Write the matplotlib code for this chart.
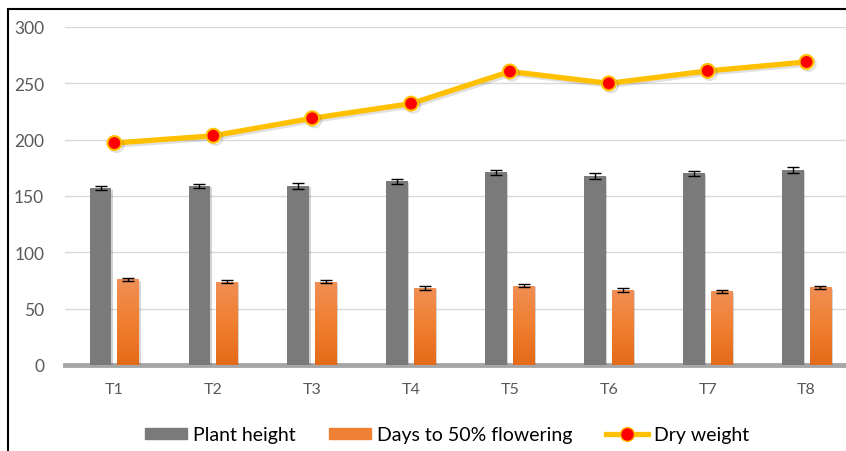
"""Plant height / flowering / dry weight by treatment."""

import matplotlib.pyplot as plt
import matplotlib.patheffects as pe
import numpy as np
from matplotlib.colors import LinearSegmentedColormap
from matplotlib.lines import Line2D
from matplotlib.patches import Patch, Rectangle

treatments = ["T1", "T2", "T3", "T4", "T5", "T6", "T7", "T8"]
plant_height = [157, 159, 159, 163, 171, 168, 170, 173]
plant_height_err = [2.0, 2.0, 2.5, 2.0, 2.5, 2.5, 2.5, 2.5]
days_flowering = [76, 74, 74, 68.5, 70.5, 66.5, 65.5, 69]
days_flowering_err = [1.5, 1.5, 1.5, 1.5, 1.5, 1.5, 1.5, 1.5]
dry_weight = [197, 203.5, 219, 232, 260.5, 250, 261, 269]

GREY = "#7a7a7a"
GOLD = "#ffc000"
TICK = "#595959"

plt.rcParams["font.family"] = ["Lato", "DejaVu Sans"]

fig = plt.figure(figsize=(8.46, 4.52), dpi=100)
ax = fig.add_axes([65 / 846, 1 - 366 / 452, 791 / 846, 338 / 452])

x = np.arange(len(treatments))
w = 0.22
shadow = [pe.SimplePatchShadow(offset=(1, -1), alpha=0.2), pe.Normal()]

ax.bar(x - 0.14, plant_height, w, color=GREY, zorder=3, path_effects=shadow)
ax.errorbar(x - 0.14, plant_height, yerr=plant_height_err, fmt="none",
            ecolor="black", elinewidth=1, capsize=4, capthick=1, zorder=4)

# orange bars with a light-to-dark vertical gradient
bars = ax.bar(x + 0.14, days_flowering, w, color="#ed7d31", zorder=3,
              path_effects=shadow)
grad = np.linspace(0, 1, 100).reshape(-1, 1)
ocmap = LinearSegmentedColormap.from_list("o", ["#e36a18", "#f07f30", "#f08f55"])
for b in bars:
    im = ax.imshow(grad, cmap=ocmap, aspect="auto", origin="lower", zorder=3.5,
                   extent=(b.get_x(), b.get_x() + b.get_width(), 0, b.get_height()))
    im.set_clip_path(b)
ax.errorbar(x + 0.14, days_flowering, yerr=days_flowering_err, fmt="none",
            ecolor="black", elinewidth=1, capsize=4, capthick=1, zorder=4)

ax.plot(x, dry_weight, color=GOLD, lw=3.8, marker="o", ms=10,
        mfc="#ff0000", mec=GOLD, mew=1.5, zorder=5,
        path_effects=[pe.SimpleLineShadow(offset=(1.5, -1.5), alpha=0.12), pe.Normal()])

ax.set_xlim(-0.5, 7.5)
ax.set_ylim(0, 300)
ax.set_yticks(range(0, 301, 50))
ax.set_xticks(x, treatments)
ax.grid(axis="y", color="#d9d9d9", lw=1, zorder=0)
ax.set_axisbelow(True)
for s in ("top", "right", "left"):
    ax.spines[s].set_visible(False)
ax.spines["bottom"].set_color("#a6a6a6")
ax.spines["bottom"].set_linewidth(3.5)
ax.spines["bottom"].set_zorder(2)
ax.tick_params(length=0, colors=TICK, labelsize=12.5)
ax.tick_params(axis="y", pad=15)
ax.tick_params(axis="x", pad=12, labelsize=11.5)

handles = [
    Patch(color=GREY, label="Plant height"),
    Patch(color="#ee8034", label="Days to 50% flowering"),
    Line2D([], [], color=GOLD, lw=3.8, marker="o", ms=10, mfc="#ff0000",
           mec=GOLD, label="Dry weight"),
]
fig.legend(handles=handles, loc="center", bbox_to_anchor=(447 / 846, 1 - 436 / 452),
           ncol=3, frameon=False, fontsize=14, handlelength=2.15, handleheight=0.45,
           columnspacing=1.75, handletextpad=0.3, borderpad=0)

# chart frame (cropped on the right and bottom in the original)
fig.add_artist(Rectangle((8 / 846, -0.1), 1.2, 1 - 10 / 452 + 0.1,
                         transform=fig.transFigure, fill=False, ec="black", lw=1.5))

fig.savefig("out.png", dpi=100)
